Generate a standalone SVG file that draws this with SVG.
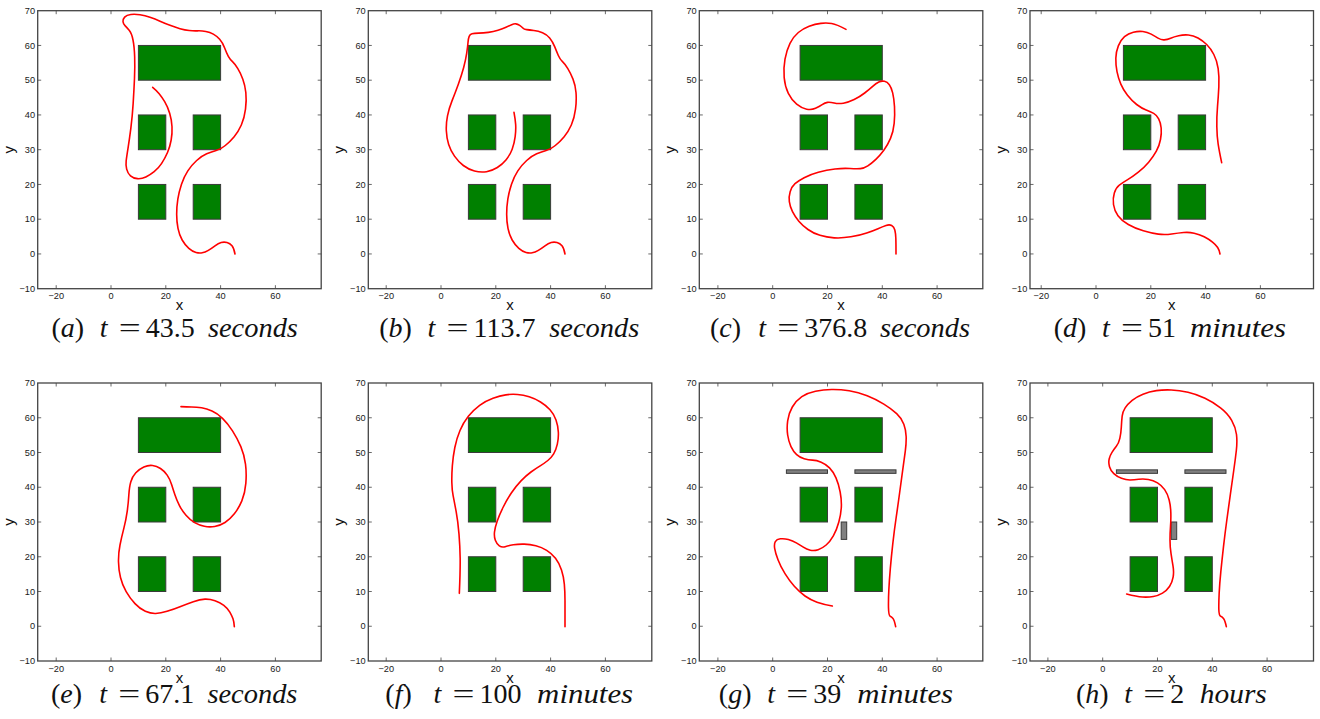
<svg xmlns="http://www.w3.org/2000/svg" width="1320" height="719" viewBox="0 0 1320 719">
<style>
.fr{fill:#fff;stroke:#444;stroke-width:1.3}
.tk{stroke:#444;stroke-width:0.8;fill:none}
.tl{font-family:"Liberation Sans",Arial,sans-serif;font-size:9.2px;fill:#1a1a1a}
.al{font-family:"Liberation Sans",Arial,sans-serif;font-size:15px;fill:#111}
.ob{fill:#008000;stroke:#3a3a3a;stroke-width:1}
.gb{fill:#808080;stroke:#3a3a3a;stroke-width:1}
.cv{fill:none;stroke:#ff0000;stroke-width:4.8;stroke-linejoin:round;stroke-linecap:round}
.cap{font-family:"Liberation Serif","Times New Roman",serif;font-size:28px;fill:#111}
.it{font-style:italic}
</style>
<defs>
<g id="frame">
<rect class="fr" x="0" y="0" width="283.5" height="278"/>
<path class="tk" d="M0,34.75h3.5M0,69.5h3.5M0,104.25h3.5M0,139h3.5M0,173.75h3.5M0,208.5h3.5M0,243.25h3.5M283.5,34.75h-3.5M283.5,69.5h-3.5M283.5,104.25h-3.5M283.5,139h-3.5M283.5,173.75h-3.5M283.5,208.5h-3.5M283.5,243.25h-3.5"/>
<g class="tl" text-anchor="end">
<text x="-2.7" y="3.2">70</text>
<text x="-2.7" y="37.95">60</text>
<text x="-2.7" y="72.7">50</text>
<text x="-2.7" y="107.45">40</text>
<text x="-2.7" y="142.2">30</text>
<text x="-2.7" y="176.95">20</text>
<text x="-2.7" y="211.7">10</text>
<text x="-2.7" y="246.45">0</text>
<text x="-2.7" y="281.2">−10</text>
</g>
<text class="al" x="141.75" y="299.5" text-anchor="middle">x</text>
<text class="al" transform="translate(-24,139) rotate(-90)" text-anchor="middle">y</text>
</g>
<g id="xt">
<path class="tk" d="M-54.8,0v3.5M0,0v3.5M54.8,0v3.5M109.6,0v3.5M164.4,0v3.5M-54.8,278v-3.5M0,278v-3.5M54.8,278v-3.5M109.6,278v-3.5M164.4,278v-3.5"/>
<g class="tl" text-anchor="middle">
<text x="-54.8" y="288.8">−20</text>
<text x="0" y="288.8">0</text>
<text x="54.8" y="288.8">20</text>
<text x="109.6" y="288.8">40</text>
<text x="164.4" y="288.8">60</text>
</g>
</g>
<g id="obs">
<rect class="ob" x="27.4" y="-208.5" width="82.2" height="34.75"/>
<rect class="ob" x="27.4" y="-139" width="27.4" height="34.75"/>
<rect class="ob" x="82.2" y="-139" width="27.4" height="34.75"/>
<rect class="ob" x="27.4" y="-69.5" width="27.4" height="34.75"/>
<rect class="ob" x="82.2" y="-69.5" width="27.4" height="34.75"/>
</g>
<g id="bars">
<rect class="gb" x="13.7" y="-156.4" width="41.1" height="3.5"/>
<rect class="gb" x="82.2" y="-156.4" width="41.1" height="3.5"/>
<rect class="gb" x="68.5" y="-104.25" width="5.5" height="17.4"/>
</g>
</defs>
<rect width="1320" height="719" fill="#fff"/>

<g id="plot-a" transform="translate(37.7,10.7)"><use href="#frame"/><use href="#xt" x="73.3"/><use href="#obs" x="73.3" y="243.25"/></g>
<g id="plot-b" transform="translate(368.3,10.7)"><use href="#frame"/><use href="#xt" x="72.7"/><use href="#obs" x="72.7" y="243.25"/></g>
<g id="plot-c" transform="translate(699.3,10.7)"><use href="#frame"/><use href="#xt" x="73.4"/><use href="#obs" x="73.4" y="243.25"/></g>
<g id="plot-d" transform="translate(1030,10.7)"><use href="#frame"/><use href="#xt" x="66"/><use href="#obs" x="66" y="243.25"/></g>
<g id="plot-e" transform="translate(37.7,383)"><use href="#frame"/><use href="#xt" x="73.3"/><use href="#obs" x="73.3" y="243.25"/></g>
<g id="plot-f" transform="translate(368.3,383)"><use href="#frame"/><use href="#xt" x="72.7"/><use href="#obs" x="72.7" y="243.25"/></g>
<g id="plot-g" transform="translate(699.3,383)"><use href="#frame"/><use href="#xt" x="73.4"/><use href="#obs" x="73.4" y="243.25"/><use href="#bars" x="73.4" y="243.25"/></g>
<g id="plot-h" transform="translate(1030,383)"><use href="#frame"/><use href="#xt" x="72.7"/><use href="#obs" x="72.7" y="243.25"/><use href="#bars" x="72.7" y="243.25"/></g>

<g id="trajectories">
<path id="traj-a" class="cv" transform="translate(0,0) scale(0.33333)" d="M705,762 Q702,745 696,737.5 Q690,730 681,727.5 Q672,725 663.5,727.5 Q655,730 645,737.5 Q635,745 625,751 Q615,757 606.5,758.5 Q598,760 588,757.5 Q578,755 566.5,745 Q555,735 546.5,720 Q538,705 534,685 Q530,665 530,642.5 Q530,620 533.5,597.5 Q537,575 544.5,552.5 Q552,530 563.5,512.5 Q575,495 590,481.5 Q605,468 620,461.5 Q635,455 648.5,451.5 Q662,448 676,436.5 Q690,425 702.5,410 Q715,395 724,375 Q733,355 736.5,327.5 Q740,300 737.5,277.5 Q735,255 728.5,237.5 Q722,220 713.5,206 Q705,192 697.5,185 Q690,178 685,169 Q680,160 674,144 Q668,128 659,118 Q650,108 640,102.5 Q630,97 617.5,94.5 Q605,92 592.5,92.5 Q580,93 567.5,91.5 Q555,90 540,86 Q525,82 510,76 Q495,70 480,63.5 Q465,57 450,52 Q435,47 420,44.5 Q405,42 392.5,43.5 Q380,45 374,51.5 Q368,58 369,65 Q370,72 375,77 Q380,82 387.5,91 Q395,100 399,120 Q403,140 404,170 Q405,200 403.5,235 Q402,270 399.5,310 Q397,350 392.5,385 Q388,420 384,445 Q380,470 378.5,482.5 Q377,495 380,507.5 Q383,520 391.5,527.5 Q400,535 412.5,536 Q425,537 437.5,531 Q450,525 462.5,515 Q475,505 485,490 Q495,475 502.5,457.5 Q510,440 513.5,420 Q517,400 516,380 Q515,360 509,340 Q503,320 494,305 Q485,290 477.5,281 Q470,272 458,262"/>
<path id="traj-b" class="cv" transform="translate(330,0) scale(0.33333)" d="M705,762 Q702,745 696,737.5 Q690,730 681,727.5 Q672,725 663.5,727.5 Q655,730 645,737.5 Q635,745 625,751 Q615,757 606.5,758.5 Q598,760 588,757.5 Q578,755 566.5,745 Q555,735 546.5,720 Q538,705 534,685 Q530,665 530,642.5 Q530,620 533.5,597.5 Q537,575 544.5,552.5 Q552,530 563.5,512.5 Q575,495 590,481.5 Q605,468 620,461.5 Q635,455 648.5,451.5 Q662,448 676,436.5 Q690,425 702.5,410 Q715,395 724,375 Q733,355 736.5,327.5 Q740,300 738,277.5 Q736,255 729,237.5 Q722,220 713.5,206 Q705,192 697.5,185 Q690,178 685,166.5 Q680,155 674,140 Q668,125 659,114 Q650,103 637.5,98 Q625,93 611.5,91.5 Q598,90 590,89 Q582,88 578.5,84 Q575,80 569,76 Q563,72 557.5,71.5 Q552,71 545,74 Q538,77 528,82 Q518,87 504,91 Q490,95 475,97 Q460,99 446,99.5 Q432,100 426,101.5 Q420,103 417.5,109 Q415,115 414,127.5 Q413,140 410,160 Q407,180 401,202.5 Q395,225 385,252.5 Q375,280 366,302.5 Q357,325 352.5,347.5 Q348,370 349,392.5 Q350,415 356,433.5 Q362,452 373.5,468.5 Q385,485 400,496.5 Q415,508 433.5,513 Q452,518 469.5,515 Q487,512 502,502.5 Q517,493 528.5,479 Q540,465 546.5,447.5 Q553,430 555.5,410 Q558,390 557,374 Q556,358 552,337"/>
<path id="traj-c" class="cv" transform="translate(660,0) scale(0.33333)" d="M558,88 Q530,73 515,70.5 Q500,68 482.5,70 Q465,72 447.5,78.5 Q430,85 415,97.5 Q400,110 390,130 Q380,150 375,177.5 Q370,205 372.5,232.5 Q375,260 385,280 Q395,300 410,312.5 Q425,325 440,327.5 Q455,330 466.5,325 Q478,320 486.5,314 Q495,308 502.5,307 Q510,306 522.5,309 Q535,312 550,309.5 Q565,307 582.5,298.5 Q600,290 614,279 Q628,268 638,259 Q648,250 656.5,246 Q665,242 673.5,244 Q682,246 688,254 Q694,262 698,278.5 Q702,295 703.5,320 Q705,345 702.5,370 Q700,395 691.5,415 Q683,435 671.5,450.5 Q660,466 647.5,478 Q635,490 623.5,497.5 Q612,505 601,506 Q590,507 570,505.5 Q550,504 525,507 Q500,510 475,517 Q450,524 432.5,533 Q415,542 405,551 Q395,560 390.5,575 Q386,590 388,605 Q390,620 397.5,635 Q405,650 416.5,663.5 Q428,677 444,688.5 Q460,700 480,706 Q500,712 522.5,713.5 Q545,715 572.5,710.5 Q600,706 620,699 Q640,692 654,686 Q668,680 678,676.5 Q688,673 695,676.5 Q702,680 704.5,690 Q707,700 707.5,715 Q708,730 708,762"/>
<path id="traj-d" class="cv" transform="translate(990,0) scale(0.33333)" d="M695,488 Q688,455 684.5,432.5 Q681,410 680.5,380 Q680,350 682.5,320 Q685,290 686.5,260 Q688,230 684.5,206 Q681,182 671.5,163.5 Q662,145 650,133.5 Q638,122 624,114 Q610,106 595,105 Q580,104 566,107 Q552,110 542,114.5 Q532,119 522.5,119.5 Q513,120 504,114.5 Q495,109 483.5,102.5 Q472,96 458.5,94.5 Q445,93 430,96.5 Q415,100 403.5,110 Q392,120 385,137.5 Q378,155 377.5,175 Q377,195 381,215 Q385,235 392.5,252.5 Q400,270 412.5,286 Q425,302 440,313.5 Q455,325 468.5,330 Q482,335 491,340 Q500,345 506,356.5 Q512,368 513.5,384 Q515,400 511.5,418.5 Q508,437 499,453.5 Q490,470 476,486.5 Q462,503 445,516.5 Q428,530 413,539 Q398,548 388,555.5 Q378,563 373,579 Q368,595 370.5,613.5 Q373,632 384,647 Q395,662 415,673.5 Q435,685 460,692.5 Q485,700 505,702.5 Q525,705 545,702 Q565,699 581,697.5 Q597,696 612.5,699.5 Q628,703 642.5,710.5 Q657,718 667.5,726.5 Q678,735 683,742.5 Q688,750 690,762"/>
<path id="traj-e" class="cv" transform="translate(0,370) scale(0.33333)" d="M543,110 Q560,111 575,111 Q590,111 605,113.5 Q620,116 636,123 Q652,130 667.5,145 Q683,160 697.5,182.5 Q712,205 722.5,230 Q733,255 736.5,282.5 Q740,310 737.5,340 Q735,370 725.5,392.5 Q716,415 703,431.5 Q690,448 675,457.5 Q660,467 644,469.5 Q628,472 613,469 Q598,466 584,458 Q570,450 558,436 Q546,422 538,406 Q530,390 525,375 Q520,360 515,344 Q510,328 501.5,315.5 Q493,303 481.5,295.5 Q470,288 457.5,286.5 Q445,285 431.5,291 Q418,297 407.5,308.5 Q397,320 392.5,335 Q388,350 386.5,375 Q385,400 381.5,425 Q378,450 371.5,475 Q365,500 360,525 Q355,550 355.5,575 Q356,600 361.5,622.5 Q367,645 378.5,665 Q390,685 405,701 Q420,717 436,724 Q452,731 467,730.5 Q482,730 501,724 Q520,718 540,710 Q560,702 580,695 Q600,688 615,687.5 Q630,687 645,692 Q660,697 671.5,706 Q683,715 689.5,726.5 Q696,738 699,746.5 Q702,755 703,770"/>
<path id="traj-f" class="cv" transform="translate(330,370) scale(0.33333)" d="M388,670 Q391,600 390.5,565 Q390,530 387,492.5 Q384,455 378.5,425 Q373,395 369.5,377.5 Q366,360 365.5,337.5 Q365,315 367,287.5 Q369,260 374.5,232.5 Q380,205 390,181.5 Q400,158 415,139 Q430,120 449,106 Q468,92 489,84.5 Q510,77 527.5,74.5 Q545,72 562.5,73.5 Q580,75 597.5,80.5 Q615,86 631.5,96 Q648,106 660,119.5 Q672,133 678,150 Q684,167 685,186 Q686,205 682,222.5 Q678,240 671,251.5 Q664,263 653.5,271.5 Q643,280 630.5,287.5 Q618,295 603,306 Q588,317 573,332.5 Q558,348 544,369 Q530,390 519,412.5 Q508,435 501.5,453.5 Q495,472 493.5,486 Q492,500 496,511 Q500,522 508,527.5 Q516,533 525.5,530 Q535,527 550,524.5 Q565,522 582.5,522.5 Q600,523 617.5,527.5 Q635,532 650,541 Q665,550 676.5,565 Q688,580 694.5,600 Q701,620 703,642.5 Q705,665 705,692.5 Q705,720 705,770"/>
<path id="traj-g" class="cv" transform="translate(660,370) scale(0.33333)" d="M517,708 Q490,703 471,696.5 Q452,690 435,678 Q418,666 403,649 Q388,632 375,611 Q362,590 354,569 Q346,548 344,535 Q342,522 346,515 Q350,508 361,506.5 Q372,505 385,508.5 Q398,512 409,518.5 Q420,525 430,531.5 Q440,538 451,540.5 Q462,543 474.5,539 Q487,535 498.5,525 Q510,515 520,497.5 Q530,480 536.5,456 Q543,432 544,411 Q545,390 540.5,366 Q536,342 528,323.5 Q520,305 508.5,293.5 Q497,282 483.5,276.5 Q470,271 457.5,270.5 Q445,270 432.5,266.5 Q420,263 410,254 Q400,245 393,230 Q386,215 383,195 Q380,175 383,152.5 Q386,130 397,111 Q408,92 425.5,80 Q443,68 466.5,63.5 Q490,59 515,58.5 Q540,58 567.5,62.5 Q595,67 621.5,77.5 Q648,88 671.5,102.5 Q695,117 710,131 Q725,145 731.5,162.5 Q738,180 738.5,200 Q739,220 736,242.5 Q733,265 728.5,297.5 Q724,330 719,367.5 Q714,405 708.5,442.5 Q703,480 698.5,520 Q694,560 691,595 Q688,630 686.5,660 Q685,690 685.5,713.5 Q686,737 690.5,739 Q695,741 699,745.5 Q703,750 707,770"/>
<path id="traj-h" class="cv" transform="translate(990,370) scale(0.33333)" d="M410,672 Q440,680 457.5,681 Q475,682 490,679.5 Q505,677 517.5,669.5 Q530,662 538.5,649.5 Q547,637 549.5,621 Q552,605 549,587.5 Q546,570 543,550 Q540,530 540,510 Q540,490 541.5,470 Q543,450 542.5,429 Q542,408 537.5,390 Q533,372 524,359 Q515,346 502.5,338.5 Q490,331 475,328.5 Q460,326 446,328 Q432,330 420,330 Q408,330 394.5,325 Q381,320 371.5,311 Q362,302 358.5,290 Q355,278 357.5,267 Q360,256 366,247 Q372,238 379,229 Q386,220 389.5,205 Q393,190 394,171 Q395,152 396.5,138.5 Q398,125 405.5,113.5 Q413,102 426.5,91 Q440,80 459,72.5 Q478,65 499,62 Q520,59 544,60 Q568,61 594,67 Q620,73 645,85 Q670,97 691.5,113.5 Q713,130 725,151 Q737,172 739.5,193.5 Q742,215 739,241.5 Q736,268 731,303 Q726,338 721,374 Q716,410 710.5,450 Q705,490 700.5,530 Q696,570 692.5,605 Q689,640 687.5,670 Q686,700 686.5,718.5 Q687,737 692,739 Q697,741 701,746.5 Q705,752 709,770"/>
</g>

<g id="captions">
<g id="cap-a"><text class="cap" x="51.4" y="337.3">(<tspan class="it">a</tspan>)</text><text class="cap it" x="99.7" y="337.3">t</text><text class="cap" x="118.7" y="337.3" textLength="22" lengthAdjust="spacingAndGlyphs">=</text><text class="cap" x="145.7" y="337.3">43.5</text><text class="cap it" x="207.95" y="337.3" textLength="90" lengthAdjust="spacingAndGlyphs">seconds</text></g>
<g id="cap-b"><text class="cap" x="379.2" y="337.3">(<tspan class="it">b</tspan>)</text><text class="cap it" x="427.5" y="337.3">t</text><text class="cap" x="446.5" y="337.3" textLength="22" lengthAdjust="spacingAndGlyphs">=</text><text class="cap" x="473.5" y="337.3">113.7</text><text class="cap it" x="549.25" y="337.3" textLength="90" lengthAdjust="spacingAndGlyphs">seconds</text></g>
<g id="cap-c"><text class="cap" x="710" y="337.3">(<tspan class="it">c</tspan>)</text><text class="cap it" x="758.3" y="337.3">t</text><text class="cap" x="777.3" y="337.3" textLength="22" lengthAdjust="spacingAndGlyphs">=</text><text class="cap" x="804.3" y="337.3">376.8</text><text class="cap it" x="880.05" y="337.3" textLength="90" lengthAdjust="spacingAndGlyphs">seconds</text></g>
<g id="cap-d"><text class="cap" x="1053.7" y="337.3">(<tspan class="it">d</tspan>)</text><text class="cap it" x="1102" y="337.3">t</text><text class="cap" x="1121" y="337.3" textLength="22" lengthAdjust="spacingAndGlyphs">=</text><text class="cap" x="1148" y="337.3">51</text><text class="cap it" x="1190" y="337.3" textLength="96" lengthAdjust="spacingAndGlyphs">minutes</text></g>
<g id="cap-e"><text class="cap" x="50.9" y="703.3">(<tspan class="it">e</tspan>)</text><text class="cap it" x="99.2" y="703.3">t</text><text class="cap" x="118.2" y="703.3" textLength="22" lengthAdjust="spacingAndGlyphs">=</text><text class="cap" x="145.2" y="703.3">67.1</text><text class="cap it" x="207.45" y="703.3" textLength="90" lengthAdjust="spacingAndGlyphs">seconds</text></g>
<g id="cap-f"><text class="cap" x="385.3" y="703.3">(<tspan class="it">f</tspan>)</text><text class="cap it" x="433.6" y="703.3">t</text><text class="cap" x="452.6" y="703.3" textLength="22" lengthAdjust="spacingAndGlyphs">=</text><text class="cap" x="479.6" y="703.3">100</text><text class="cap it" x="537.1" y="703.3" textLength="96" lengthAdjust="spacingAndGlyphs">minutes</text></g>
<g id="cap-g"><text class="cap" x="718.85" y="703.3">(<tspan class="it">g</tspan>)</text><text class="cap it" x="767.15" y="703.3">t</text><text class="cap" x="786.15" y="703.3" textLength="22" lengthAdjust="spacingAndGlyphs">=</text><text class="cap" x="813.15" y="703.3">39</text><text class="cap it" x="857.15" y="703.3" textLength="96" lengthAdjust="spacingAndGlyphs">minutes</text></g>
<g id="cap-h"><text class="cap" x="1076" y="703.3">(<tspan class="it">h</tspan>)</text><text class="cap it" x="1124.3" y="703.3">t</text><text class="cap" x="1143.3" y="703.3" textLength="22" lengthAdjust="spacingAndGlyphs">=</text><text class="cap" x="1170.3" y="703.3">2</text><text class="cap it" x="1199.8" y="703.3" textLength="67" lengthAdjust="spacingAndGlyphs">hours</text></g>
</g>
</svg>
